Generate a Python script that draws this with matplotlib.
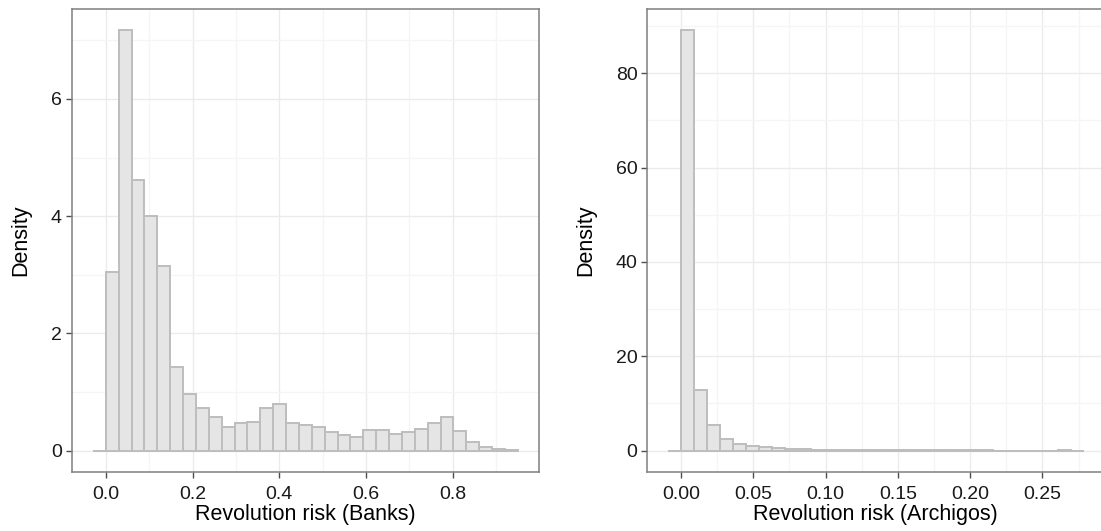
import numpy as np
import matplotlib
matplotlib.use("Agg")
import matplotlib.pyplot as plt
from matplotlib.ticker import MultipleLocator

plt.rcParams['font.family'] = ['Liberation Sans', 'DejaVu Sans']

# ---- Data ----
banks_bin_start = -0.0297
banks_bin_width = 0.0297
banks_density = [0.0, 3.05, 7.18, 4.62, 4.01, 3.15, 1.43, 0.97, 0.73, 0.57, 0.40,
                 0.47, 0.49, 0.73, 0.79, 0.47, 0.44, 0.41, 0.31, 0.26, 0.24,
                 0.36, 0.36, 0.28, 0.31, 0.37, 0.48, 0.58, 0.34, 0.15, 0.07,
                 0.03, 0.005]

arch_bin_start = -0.00898
arch_bin_width = 0.00898
arch_density = [0.0, 89.2, 12.96, 5.49, 2.40, 1.34, 1.06, 0.85, 0.56, 0.42, 0.30,
                0.20, 0.14, 0.10, 0.08, 0.06, 0.05, 0.05, 0.12, 0.15, 0.14,
                0.12, 0.05, 0.04, 0.04, 0.03, 0.03, 0.03, 0.02, 0.03, 0.18,
                0.03]

banks_xticks = [0.0, 0.2, 0.4, 0.6, 0.8]
banks_xticklabels = ["0.0", "0.2", "0.4", "0.6", "0.8"]
banks_yticks = [0, 2, 4, 6]
arch_xticks = [0.00, 0.05, 0.10, 0.15, 0.20, 0.25]
arch_xticklabels = ["0.00", "0.05", "0.10", "0.15", "0.20", "0.25"]
arch_yticks = [0, 20, 40, 60, 80]

FILL = "#e5e5e5"
EDGE = "#bdbdbd"

W, H = 1101, 531
fig = plt.figure(figsize=(W / 100, H / 100), dpi=100)

def px_axes(l, r, t, b):
    return fig.add_axes([l / W, 1 - b / H, (r - l) / W, (b - t) / H])

ax1 = px_axes(71.7, 539.0, 8.7, 471.7)
ax2 = px_axes(647.3, 1104.3, 8.7, 471.7)

def style(ax, density, start, width, xticks, xlabels, yticks, xminor, yminor, xlabel):
    n = len(density)
    lefts = start + width * np.arange(n)
    ax.bar(lefts, density, width=width, align='edge', color=FILL,
           edgecolor=EDGE, linewidth=1.4, zorder=3)
    lo = lefts[0]
    hi = lefts[-1] + width
    span = hi - lo
    ax.set_xlim(lo - 0.05 * span, hi + 0.05 * span)
    ymax = max(density)
    ax.set_ylim(-0.05 * ymax, ymax * 1.05)
    ax.set_xticks(xticks)
    ax.set_xticklabels(xlabels)
    ax.set_yticks(yticks)
    ax.xaxis.set_minor_locator(MultipleLocator(xminor))
    ax.yaxis.set_minor_locator(MultipleLocator(yminor))
    ax.grid(which='major', color='#ebebeb', linewidth=1.0, zorder=0)
    ax.grid(which='minor', color='#f5f5f5', linewidth=0.9, zorder=0)
    ax.set_axisbelow(True)
    ax.tick_params(which='minor', length=0)
    ax.tick_params(which='major', length=4, width=1, color='#4d4d4d',
                   labelsize=14, labelcolor='#1a1a1a')
    ax.tick_params(axis='x', pad=6)
    ax.tick_params(axis='y', pad=3)
    for s in ax.spines.values():
        s.set_color('#7f7f7f')
        s.set_linewidth(1.1)
    ax.set_xlabel(xlabel, fontsize=15.5, labelpad=1, color='black')
    ax.set_ylabel("Density", fontsize=15.5, labelpad=14, color='black')

style(ax1, banks_density, banks_bin_start, banks_bin_width,
      banks_xticks, banks_xticklabels, banks_yticks, 0.1, 1,
      "Revolution risk (Banks)")
style(ax2, arch_density, arch_bin_start, arch_bin_width,
      arch_xticks, arch_xticklabels, arch_yticks, 0.025, 10,
      "Revolution risk (Archigos)")

fig.savefig("out.png", dpi=100)
